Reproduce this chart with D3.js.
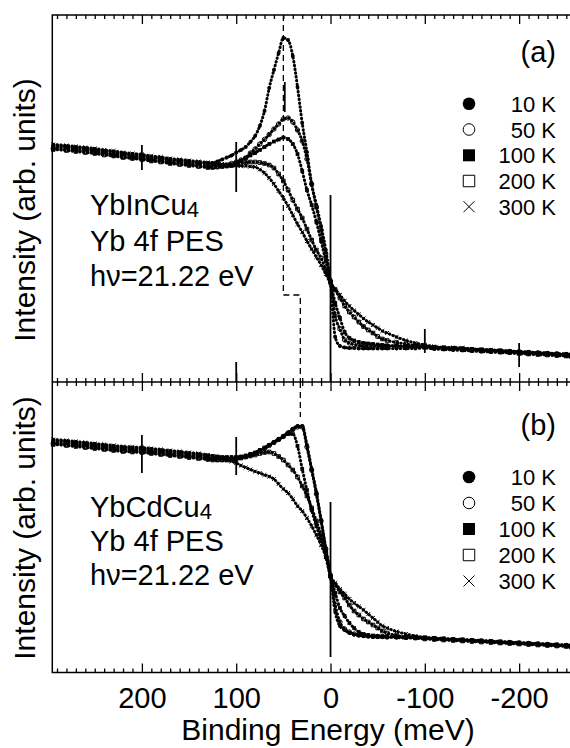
<!DOCTYPE html>
<html>
<head>
<meta charset="utf-8">
<script src="https://cdn.jsdelivr.net/npm/d3@7"></script>
<style>
  body { margin: 0; background: #fff; }
  svg { display: block; font-family: "Liberation Sans", Arial, Helvetica, sans-serif; }
</style>
</head>
<body>
<div id="chart"></div>
<script>
// Binding energy grid (meV), shared by every spectrum
const energy = [294,280,270,260,250,240,230,220,210,200,190,180,170,160,150,140,130,
  125,120,115,110,105,100,95,90,85,80,75,70,65,60,55,50,45,40,35,30,25,20,15,10,5,0,-5,-10,-15,-20,-25,-30,-35,-40,-45,-50,-55,-60,
  -70,-80,-90,-100,-110,-120,-130,-140,-150,-160,-170,-180,-190,-200,-210,-220,-230,-240,-250,-255];

const temps = ["10 K", "50 K", "100 K", "200 K", "300 K"];
const markers = ["dot", "circle", "square", "openSquare", "cross"];

// (a) YbInCu4, intensity (arb. units)
const inCu10K = [253,252.5,251,250.5,249,247.5,246,245.5,244,243,241.5,241,239.5,238.5,237,236.5,236.5,
  237,238.5,240.5,242.5,244.5,247.5,250,253,258,264,274,289,312,330,347,362,360,344,313,277,248,216,195,174,150,117,63,54,52.5,52,52,51.5,51.5,51.5,51.5,51.5,51.5,51.5,
  51.5,51.5,51.5,52,51,50.5,50,49.5,49,48.5,48,47.5,47,46.5,46,45.5,45,44.5,44,43.5];
const inCu50K = [251.5,250.5,249.5,248.5,247.5,246,245,243.5,242.5,241.5,240,239,237.5,236.5,235.5,234.5,233.5,
  233.5,233.5,234,235,236.5,238,240,242,247,251,256,260.5,265.5,271,276,281,282,278,270,259,241,216,193,170,146,119,84,71,60,57,55.5,54.5,54,54,54,54,54,54,
  54,53.5,53.5,53.5,52.5,52,51.5,51,50.5,50,49.5,49,48.5,48,47.5,47,46.5,46,45.5,45];
const inCu100K = [254.5,253.5,252.5,251.5,250.5,249,248,246.5,245.5,244.5,243,242,240.5,239.5,238.5,237.5,236.5,
  236,235,234,233.5,234,236,239,242,244.5,247,250,253,256,258.5,260.5,262.5,261,256,246,229,210,195,178,159,139,118,97,82,68,62,59.5,58,57,56.5,56,55.5,55,54.5,
  54,53.5,53.5,53.5,53,52.5,52,51.5,51,50.5,50,49.5,49,48.5,48,47.5,47,46.5,46,45.5];
const inCu200K = [250.5,249.5,248.5,247.5,246.5,245,244,242.5,241.5,240.5,239,238,236.5,235.5,234.5,233.5,232.5,
  232.5,233,233.5,234.5,235,236,237,237.5,238,238,237.5,236.5,235,232,226,219,210,200,191,182,171,160,150,142,130,118,110,102,94,88,83,78,73.5,70,67,63.5,61,59.5,
  57.5,56,54.5,53.5,52,51.5,51,50.5,49.5,49,48.5,48,47.5,46.5,46,45.5,45,44.5,44,43.5];
const inCu300K = [255.5,254.5,253.5,252.5,251.5,250,249,247.5,246.5,245.5,244,243,241.5,240.5,239.5,238.5,237.5,
  237,236.5,236,235.5,235,234.5,234,234,233.5,233,230.5,227,222,216,209,202,194,185,176,168,159,151,143,135,126,117,111,105,99,94,89.5,85.5,81.5,78,75,72,69,67,
  63,59.5,57,55,53.5,52.5,52.5,52,51,50.5,50,49.5,48.5,48,47.5,47,46.5,45.5,45,44.5];

// (b) YbCdCu4, intensity (arb. units)
const cdCu10K = [258,257,256,255,254,253,252,251,250.5,250,249,248,247,246,245,244,243,
  242.5,242,241.5,241.5,241.5,242,243,244,246,247,249.5,252,255,258,261,264,267.5,271,274,274,255,231,208,180,152,124,88,74,70,67,65.5,64.5,64,63.5,63,63,63,63,
  62.5,62,62,61.5,61,60.5,60,59.5,59,58.5,58,57.5,57,56.5,56,55.5,55,54.5,54,53.5];
const cdCu50K = [256.5,255.5,254.5,253.5,252.5,251.5,250.5,249.5,249,248.5,247.5,246.5,245.5,244.5,243.5,242.5,241.5,
  241,240.5,240.5,240.5,241,241.5,242.5,243.5,245,246.5,249,251.5,254.5,257.5,260.5,263.5,267,270.5,273,273,253,230,206,179,151,124,95,78,71,68,66,65,64.5,64,63.5,63.5,63.5,63,
  63,62.5,62.5,62,61.5,61,60.5,60,59.5,59,58.5,58,57.5,57,56.5,56,55.5,55,54.5,54];
const cdCu100K = [259.5,258.5,257.5,256.5,255.5,254.5,253.5,252.5,252,251.5,250.5,249.5,248.5,247.5,246.5,245.5,244.5,
  244,243.5,243,243,243,243,243.5,244.5,246,247.5,250,252.5,255,257.5,260.5,263.5,266,266,254,231,210,190,174,159,143,124,107,92,84,77,72,68,66,65,64.5,64,63.5,63,
  63.5,63,63,62.5,62,61.5,61,60.5,60,59.5,59,58.5,58,57.5,57,56.5,56,55.5,55,54.5];
const cdCu200K = [255.5,254.5,253.5,252.5,251.5,250.5,249.5,248.5,248,247.5,246.5,245.5,244.5,243.5,242.5,241.5,240.5,
  240,240,240,240,240.5,241,242,243,244,245,246.5,247.5,248,246.5,243.5,240,235,230,223,214,204,192,179,165,148,124,115,108,102,95,89,85,81,78,75,72,69,67,
  64.5,63,62,61,60.5,60,59.5,59,58.5,58,57.5,57,56.5,56,55.5,55,54.5,54,53.5,53];
const cdCu300K = [260.5,259.5,258.5,257.5,256.5,255.5,254.5,253.5,253,252.5,251.5,250.5,249.5,248.5,247.5,246.5,245,
  244,243,241.5,240,238.5,237,234.5,232.5,230.5,228.5,227,225,223.5,221,216,211,207,201,194,189,182,174,165,155,143,124,117,111,106,101,97,93.5,90,86,82,78,74,72,
  68.5,66,64,62.5,61.5,61,60.5,60,59.5,59,58.5,58,57.5,57,56.5,56,55.5,55,54.5,54];

// Dashed guide and vertical marks, as [energy, intensity] / [energy, from, to]
const guideA = [[50, 385], [50, 105], [32, 105], [32, 18]];
const guideB = [[32, 318], [32, 283]];
const barsA = [[200, 230, 255], [100, 208, 258], [0, 18, 205], [-100, 47, 71], [-200, 33, 57], [100, 18, 38], [48.5, 288, 318]];
const barsB = [[200, 227, 265], [100, 225, 263], [0, 43, 198]];

const majorTicks = [200, 100, 0, -100, -200];
const minorTicks = d3.range(-250, 291, 10).filter(v => v % 100 !== 0);

const width = 570, height = 748;
const frameLeft = 52.3, frameRight = 571, frameTop = 15, frameMid = 382, frameBottom = 672.5;

const x = d3.scaleLinear().domain([295, -255]).range([frameLeft, frameRight]);
const yA = d3.scaleLinear().domain([18, 385]).range([frameMid, frameTop]);
const yB = d3.scaleLinear().domain([27.5, 318]).range([frameBottom, frameMid]);

const svg = d3.select("#chart").append("svg")
  .attr("width", width)
  .attr("height", height);

// marker shapes
const symbolX = {
  draw(ctx, size) {
    const r = Math.sqrt(size) / 2;
    ctx.moveTo(-r, -r); ctx.lineTo(r, r);
    ctx.moveTo(r, -r); ctx.lineTo(-r, r);
  }
};
const markerStyle = {
  dot: { type: d3.symbolCircle, fill: "#000", stroke: "none", small: 12, big: 125 },
  circle: { type: d3.symbolCircle, fill: "none", stroke: "#000", small: 15, big: 106 },
  square: { type: d3.symbolSquare, fill: "#000", stroke: "none", small: 14, big: 144 },
  openSquare: { type: d3.symbolSquare, fill: "none", stroke: "#000", small: 13, big: 132 },
  cross: { type: symbolX, fill: "none", stroke: "#000", small: 15, big: 121 }
};

const panels = [
  { y: yA, series: [inCu10K, inCu50K, inCu100K, inCu200K, inCu300K], guide: guideA, bars: barsA,
    compound: "YbInCu", tag: "(a)", tagY: 62, textY: [215, 250.7, 286], legendY: [111.7, 137.5, 163.3, 189, 214.7], labelY: 210 },
  { y: yB, series: [cdCu10K, cdCu50K, cdCu100K, cdCu200K, cdCu300K], guide: guideB, bars: barsB,
    compound: "YbCdCu", tag: "(b)", tagY: 435, textY: [516.7, 550.5, 585], legendY: [485, 511, 537, 563, 589], labelY: 528 }
];

panels.forEach(p => {
  const line = d3.line()
    .x(d => x(d[0]))
    .y(d => p.y(d[1]))
    .curve(d3.curveMonotoneX);

  // spectra: dotted trace + markers at each data point
  p.series.forEach((vals, i) => {
    const pts = energy.map((e, j) => [e, vals[j]]);
    svg.append("path")
      .attr("d", line(pts))
      .attr("fill", "none")
      .attr("stroke", "#000")
      .attr("stroke-width", 3)
      .attr("stroke-linecap", "round")
      .attr("stroke-dasharray", "0.5 3.3");

    const st = markerStyle[markers[i]];
    svg.append("g").selectAll("path")
      .data(pts)
      .join("path")
      .attr("transform", d => `translate(${x(d[0])},${p.y(d[1])})`)
      .attr("d", d3.symbol(st.type, st.small))
      .attr("fill", st.fill)
      .attr("stroke", st.stroke)
      .attr("stroke-width", 1);
  });

  // dashed guide
  svg.append("path")
    .attr("d", d3.line().x(d => x(d[0])).y(d => p.y(d[1]))(p.guide))
    .attr("fill", "none")
    .attr("stroke", "#000")
    .attr("stroke-width", 1.3)
    .attr("stroke-dasharray", "6 4");

  // vertical marks
  svg.append("g").selectAll("line")
    .data(p.bars)
    .join("line")
    .attr("x1", d => x(d[0])).attr("x2", d => x(d[0]))
    .attr("y1", d => p.y(d[1])).attr("y2", d => p.y(d[2]))
    .attr("stroke", "#000")
    .attr("stroke-width", 1.8);

  // sample text
  const t1 = svg.append("text")
    .attr("x", 90).attr("y", p.textY[0])
    .style("font-size", "29px")
    .text(p.compound);
  t1.append("tspan").attr("dy", 2).style("font-size", "22px").text("4");
  svg.append("text").attr("x", 90).attr("y", p.textY[1]).style("font-size", "29px").text("Yb 4f PES");
  svg.append("text").attr("x", 90).attr("y", p.textY[2]).style("font-size", "29px").text("hν=21.22 eV");

  svg.append("text")
    .attr("x", 556).attr("y", p.tagY)
    .attr("text-anchor", "end")
    .style("font-size", "29px")
    .text(p.tag);

  // legend
  temps.forEach((t, i) => {
    const st = markerStyle[markers[i]];
    svg.append("path")
      .attr("transform", `translate(469,${p.legendY[i] - 8})`)
      .attr("d", d3.symbol(st.type, st.big))
      .attr("fill", st.fill === "none" ? "#fff" : st.fill)
      .attr("stroke", st.stroke)
      .attr("stroke-width", 1);
    svg.append("text")
      .attr("x", 556).attr("y", p.legendY[i])
      .attr("text-anchor", "end")
      .style("font-size", "22px")
      .text(t);
  });

  svg.append("text")
    .attr("transform", `translate(35,${p.labelY}) rotate(-90)`)
    .attr("text-anchor", "middle")
    .style("font-size", "30px")
    .text("Intensity (arb. units)");
});

// tick marks on the horizontal frame lines
function ticks(axisGen, yPos, values, size, withLabels) {
  const g = svg.append("g")
    .attr("transform", `translate(0,${yPos})`)
    .call(axisGen(x).tickValues(values).tickSizeInner(size).tickSizeOuter(0)
      .tickFormat(withLabels ? d => String(d) : ""));
  g.attr("font-size", null).attr("font-family", null);
  g.select(".domain").remove();
  g.selectAll("line").attr("stroke", "#000").attr("stroke-width", 1.3);
  return g;
}

ticks(d3.axisTop, frameTop, minorTicks, -4, false);
ticks(d3.axisTop, frameTop, majorTicks, -9, false);
ticks(d3.axisBottom, frameMid, minorTicks, -4, false);
ticks(d3.axisBottom, frameMid, majorTicks, -9, false);
ticks(d3.axisTop, frameMid, minorTicks, -4, false);
ticks(d3.axisTop, frameMid, majorTicks, -9, false);
ticks(d3.axisBottom, frameBottom, minorTicks, -4, false);
const labelled = ticks(d3.axisBottom, frameBottom, majorTicks, -9, true);
labelled.selectAll("text")
  .attr("y", 35.5)
  .attr("dy", null)
  .attr("fill", "#000")
  .style("font-size", "29px");

// frame
svg.append("rect")
  .attr("x", frameLeft).attr("y", frameTop)
  .attr("width", frameRight - frameLeft).attr("height", frameBottom - frameTop)
  .attr("fill", "none")
  .attr("stroke", "#000")
  .attr("stroke-width", 1.5);
svg.append("line")
  .attr("x1", frameLeft).attr("x2", frameRight)
  .attr("y1", frameMid).attr("y2", frameMid)
  .attr("stroke", "#000")
  .attr("stroke-width", 1.5);

svg.append("text")
  .attr("x", 328).attr("y", 740)
  .attr("text-anchor", "middle")
  .style("font-size", "30px")
  .text("Binding Energy (meV)");
</script>
</body>
</html>
